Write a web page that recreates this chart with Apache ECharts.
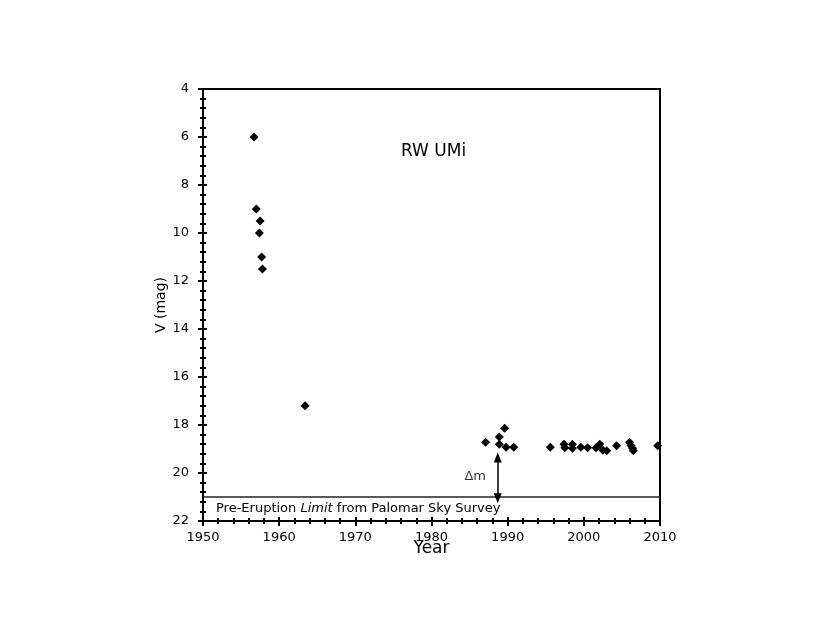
<!DOCTYPE html>
<html>
<head>
<meta charset="utf-8">
<script src="https://cdn.jsdelivr.net/npm/echarts@6/dist/echarts.min.js"></script>
<style>
  html, body { margin: 0; padding: 0; background: #fff; }
  #chart { width: 830px; height: 642px; }
</style>
</head>
<body>
<div id="chart"></div>
<script>
// observations: year, V magnitude
const years = [
  1956.7, 1957.0, 1957.5, 1957.4, 1957.7, 1957.8,
  1963.4,
  1987.1, 1988.9, 1988.9, 1989.6, 1989.8, 1990.8,
  1995.6, 1997.4, 1997.5, 1998.5, 1998.5, 1999.6, 2000.5, 2001.6,
  2002.1, 2002.5, 2003.0, 2004.3, 2006.0, 2006.2, 2006.4, 2006.5, 2009.7
];
const mags = [
  6.0, 9.0, 9.5, 10.0, 11.0, 11.5,
  17.2,
  18.72, 18.5, 18.8, 18.14, 18.93, 18.93,
  18.93, 18.8, 18.95, 18.8, 18.97, 18.93, 18.95, 18.95,
  18.8, 19.05, 19.07, 18.86, 18.72, 18.86, 18.97, 19.07, 18.86
];
const xTicks = [1950, 1960, 1970, 1980, 1990, 2000, 2010];
const yTicks = [4, 6, 8, 10, 12, 14, 16, 18, 20, 22];
const limitMag = 21;
const arrowYear = 1988.7;
const arrowTop = 19.35;

const font = "DejaVu Sans, Verdana, sans-serif";
const points = years.map((y, i) => [y, mags[i]]);

const chart = echarts.init(document.getElementById("chart"));

const baseX = {
  type: "value",
  min: xTicks[0],
  max: xTicks[xTicks.length - 1],
  interval: 10,
  splitLine: { show: false },
};
const baseY = {
  type: "value",
  inverse: true,
  min: yTicks[0],
  max: yTicks[yTicks.length - 1],
  interval: 2,
  splitLine: { show: false },
};

const option = {
  animation: false,
  title: {
    text: "RW UMi",
    left: 396,
    top: 138,
    textStyle: { fontFamily: font, fontSize: 17, fontWeight: "normal", color: "#000" },
  },
  grid: {
    left: 203,
    right: 170,
    top: 89,
    bottom: 121,
    show: true,
    borderColor: "#000",
    borderWidth: 2,
  },
  xAxis: [
    {
      ...baseX,
      name: "Year",
      nameLocation: "middle",
      nameGap: 19,
      nameMoveOverlap: false,
      nameTextStyle: { fontFamily: font, fontSize: 17, color: "#000" },
      axisLine: { lineStyle: { color: "#000", width: 2 } },
      axisTick: { length: 5, lineStyle: { color: "#000", width: 2 } },
      minorTick: { show: true, splitNumber: 5, length: 3, lineStyle: { color: "#000", width: 2 } },
      axisLabel: {
        fontFamily: font, fontSize: 13, color: "#000", margin: 10,
        formatter: (v) => String(v),
      },
    },
    {
      ...baseX,
      axisLine: { show: false },
      axisTick: { inside: true, length: 4, lineStyle: { color: "#000", width: 2 } },
      minorTick: { show: true, splitNumber: 5, length: 3, lineStyle: { color: "#000", width: 2 } },
      axisLabel: { show: false },
      position: "bottom",
    },
  ],
  yAxis: [
    {
      ...baseY,
      name: "V (mag)",
      nameLocation: "middle",
      nameGap: 35,
      nameMoveOverlap: false,
      nameTextStyle: { fontFamily: font, fontSize: 14, color: "#000" },
      axisLine: { lineStyle: { color: "#000", width: 2 } },
      axisTick: { length: 5, lineStyle: { color: "#000", width: 2 } },
      minorTick: { show: true, splitNumber: 5, length: 3, lineStyle: { color: "#000", width: 2 } },
      axisLabel: { fontFamily: font, fontSize: 13, color: "#000", margin: 14 },
    },
    {
      ...baseY,
      position: "left",
      axisLine: { show: false },
      axisTick: { inside: true, length: 4, lineStyle: { color: "#000", width: 2 } },
      minorTick: { show: true, splitNumber: 5, length: 3, lineStyle: { color: "#000", width: 2 } },
      axisLabel: { show: false },
    },
  ],
  series: [
    {
      type: "scatter",
      data: points,
      symbol: "diamond",
      symbolSize: 9,
      itemStyle: { color: "#000", opacity: 1 },
      markLine: {
        silent: true,
        animation: false,
        data: [
          [
            {
              coord: [xTicks[0], limitMag],
              symbol: "none",
              lineStyle: { color: "#222", width: 1.5, type: "solid" },
              label: {
                show: true,
                position: "insideStartBottom",
                distance: [13, 5],
                formatter: "{a|Pre-Eruption }{b|Limit}{a| from Palomar Sky Survey}",
                rich: {
                  a: { fontFamily: font, fontSize: 13, color: "#000" },
                  b: { fontFamily: font, fontSize: 13, color: "#000", fontStyle: "italic" },
                },
              },
            },
            { coord: [xTicks[xTicks.length - 1], limitMag], symbol: "none" },
          ],
          [
            {
              coord: [arrowYear, arrowTop],
              symbol: "triangle",
              symbolSize: [8, 10],
              lineStyle: { color: "#000", width: 1.5, type: "solid" },
              label: { show: false },
            },
            { coord: [arrowYear, limitMag + 0.05], symbol: "triangle", symbolSize: [8, 10] },
          ],
        ],
        symbol: ["none", "none"],
      },
    },
    {
      type: "scatter",
      data: [[1985.8, 20.17]],
      symbolSize: 1,
      itemStyle: { color: "rgba(0,0,0,0)" },
      silent: true,
      label: {
        show: true,
        position: [0, 0],
        align: "center",
        verticalAlign: "middle",
        formatter: "Δm",
        fontFamily: font,
        fontSize: 13,
        color: "#000",
        textBorderWidth: 0,
      },
    },
  ],
};

chart.setOption(option);
window.addEventListener("resize", () => chart.resize());
</script>
</body>
</html>
